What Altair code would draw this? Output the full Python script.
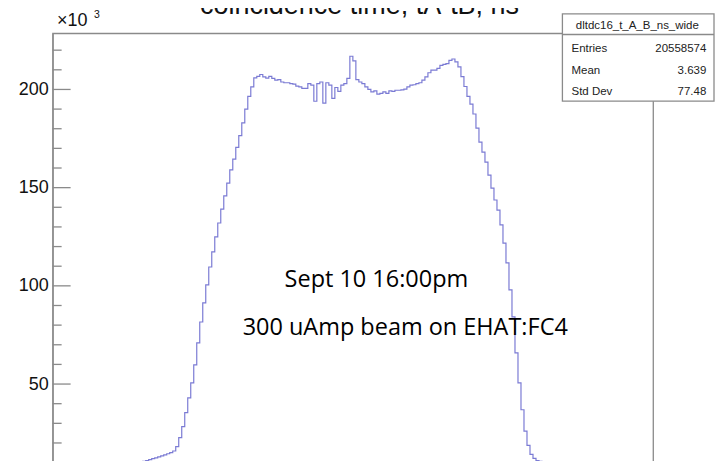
import altair as alt
import pandas as pd

# ---------------- data (thousands of entries per 2.5 ns bin) ----------------
bin_width = 2.5
first_edge = -200.0
x_range = [-250.0, 250.0]
y_range = [0.0, 228.6]

tail_left = [5.8, 6.3, 6.8, 7.3, 7.8, 8.3, 8.7, 9.2, 9.7, 10.1, 10.6, 11.0, 11.5,
             12.0, 12.4, 12.9, 13.4, 13.9, 14.5, 15.1, 15.9]
rise = [18.1, 22.7, 28.3, 35.4, 43.0, 50.6, 59.8, 71.0, 81.6, 91.3, 100.5, 109.6,
        117.3, 124.9, 132.0, 139.1, 145.8, 152.3, 159.0, 164.5, 170.5, 176.5,
        183.0, 190.0, 196.5]
plateau_left = [201.3, 205.9, 206.7, 207.6, 206.4, 205.8, 206.7, 205.6, 204.7,
                205.0, 203.8, 203.4, 203.4, 203.0, 202.7, 201.7, 201.3, 200.5,
                200.5, 203.0, 202.2, 194.0, 203.0, 203.8, 193.0, 203.4, 202.2,
                195.5, 201.0, 199.0, 202.2, 203.0, 205.6, 216.9, 214.5, 205.0,
                203.8, 203.0, 201.3, 200.0, 198.8, 199.3, 197.6]
plateau_right = [198.0, 198.8, 198.0, 199.3, 199.0, 199.6, 199.6, 199.8, 200.2,
                 201.3, 202.2, 202.4, 203.0, 203.4, 204.7, 206.4, 208.5, 209.8,
                 209.8, 210.7, 212.3, 212.8, 213.2, 214.8, 215.5, 214.0, 211.5,
                 206.5, 201.5, 196.5]
fall = [192.5, 187.5, 180.3, 173.2, 168.1, 163.0, 156.4, 149.8, 143.7, 138.6,
        131.0, 121.8, 111.7, 97.9, 84.2, 65.9, 50.6, 36.9, 26.0, 18.8, 14.2, 12.2]
tail_right = [11.0, 10.7, 10.4, 10.1, 9.8, 9.5, 9.2, 8.9, 8.7, 8.4, 8.1, 7.8,
              7.5, 7.3, 7.0, 6.7, 6.4, 6.1, 5.8]

counts_k = tail_left + rise + plateau_left + plateau_right + fall + tail_right

y_major = [50, 100, 150, 200]
y_minor = [10, 20, 30, 40, 60, 70, 80, 90, 110, 120, 130, 140, 160, 170, 180,
           190, 210, 220]
y_labels = ["50", "100", "150", "200"]

title_text = "coincidence time, tA-tB, ns"
stats_name = "dltdc16_t_A_B_ns_wide"
stats_keys = ["Entries", "Mean", "Std Dev"]
stats_vals = ["20558574", "3.639", "77.48"]
note1 = "Sept 10 16:00pm"
note2 = "300 uAmp beam on EHAT:FC4"

# ---------------- build step table ----------------
n = len(counts_k)
xs = [x_range[0]] + [first_edge + bin_width * i for i in range(n)] + \
     [first_edge + bin_width * n, x_range[1]]
ys = [0.0] + counts_k + [0.0, 0.0]
hist = pd.DataFrame({"x": xs, "y": ys})

FRAME = "#8a8a8a"
SANS = "Liberation Sans"

xs_scale = alt.Scale(domain=x_range, nice=False, zero=False)
ys_scale = alt.Scale(domain=y_range, nice=False, zero=False)

line = alt.Chart(hist).mark_line(
    interpolate="step-after", color="#7b7bd4", strokeWidth=1.2, clip=True
).encode(
    x=alt.X("x:Q", scale=xs_scale, axis=None),
    y=alt.Y("y:Q", scale=ys_scale,
            axis=alt.Axis(values=y_major, ticks=False, grid=False, title=None,
                          labelFont=SANS, labelFontSize=18, labelColor="#111",
                          labelPadding=4.5, domainColor=FRAME, domainWidth=1.3,
                          labelExpr="datum.value")),
)

major_ticks = alt.Chart(pd.DataFrame({"v": y_major})).mark_rule(
    color=FRAME, strokeWidth=1.3
).encode(y=alt.Y("v:Q", scale=ys_scale), x=alt.value(0), x2=alt.value(18))

minor_ticks = alt.Chart(pd.DataFrame({"v": y_minor})).mark_rule(
    color=FRAME, strokeWidth=1.3
).encode(y=alt.Y("v:Q", scale=ys_scale), x=alt.value(0), x2=alt.value(9))


def label(text, px, py, size, align="left", font=SANS, color="#111",
          baseline="alphabetic"):
    return alt.Chart(pd.DataFrame({"t": [text]})).mark_text(
        align=align, baseline=baseline, font=font, fontSize=size, color=color
    ).encode(x=alt.value(px), y=alt.value(py), text="t:N")


title = label(title_text, 307.3, -19, 27, align="center")
exp_main = label("×10", 4.3, -7, 18)
exp_sup = label("3", 41.3, -15, 10.5)

stats_box = alt.Chart(pd.DataFrame({"a": [0]})).mark_rect(
    fill="white", stroke=FRAME, strokeWidth=1.3
).encode(x=alt.value(510.5), x2=alt.value(662.3), y=alt.value(-19.5),
         y2=alt.value(68))
stats_div = alt.Chart(pd.DataFrame({"a": [0]})).mark_rule(
    color=FRAME, strokeWidth=1.3
).encode(x=alt.value(510.5), x2=alt.value(662.3), y=alt.value(1.2))

stats_layers = [label(stats_name, 585.5, -7, 11.5, align="center",
                      baseline="middle", color="#222")]
rows_y = [16, 38, 58.7]
for k, v, ry in zip(stats_keys, stats_vals, rows_y):
    stats_layers.append(label(k, 519.6, ry, 11.5, baseline="middle", color="#222"))
    stats_layers.append(label(v, 654.6, ry, 11.5, align="right",
                              baseline="middle", color="#222"))

n1 = label(note1, 232.3, 253.7, 23.5, font="Open Sans", color="#000")
n2 = label(note2, 190.3, 302, 23.5, font="Open Sans", color="#000")

chart = alt.layer(
    line, minor_ticks, major_ticks, n1, n2, title, exp_main, exp_sup,
    stats_box, stats_div, *stats_layers
).properties(
    width=601.3, height=449.6,
    autosize=alt.AutoSizeParams(type="none"),
    padding={"left": 44.7, "top": 25, "right": 62, "bottom": -22},
    background="white",
).configure_view(stroke=FRAME, strokeWidth=1.3)

chart.save("out.html", embed_options={"renderer": "svg", "actions": False})
